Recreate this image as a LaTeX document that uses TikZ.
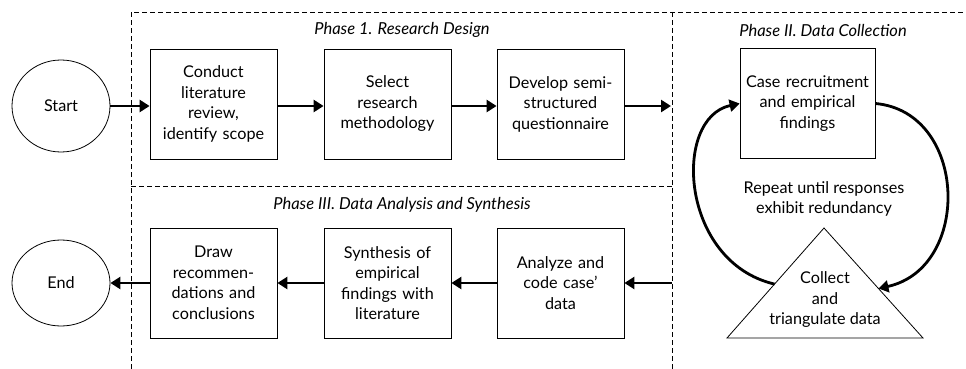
\documentclass[tikz,border=0pt]{standalone}
\usepackage{fontspec}
\setmainfont{Lato}
\usetikzlibrary{arrows.meta}
\usetikzlibrary{shapes.geometric}
\usetikzlibrary{calc}
\tikzstyle{stage}=[draw, line width=0.8pt, inner sep=0, minimum width=127pt, minimum height=110pt, text width=122pt, align=center]
\tikzstyle{terminal}=[draw, ellipse, line width=0.8pt, inner sep=0, minimum width=98pt, minimum height=92pt]
\tikzstyle{flow}=[line width=2.8pt, -{Triangle[length=10pt, width=12pt]}]
\tikzstyle{border}=[line width=0.7pt, dash pattern=on 5pt off 3pt]
\tikzstyle{phase}=[font=\fontsize{16.5}{20}\selectfont\itshape]
\begin{document}
\begin{tikzpicture}[x=1pt, y=-1pt, font=\fontsize{16.2}{20.5}\selectfont]
    \useasboundingbox (0, 0) rectangle (966, 369);
    % dashed phase borders
    \draw[border] (131, 369) -- (131, 12) -- (966, 12);
    \draw[border] (672, 12) -- (672, 369);
    \draw[border] (131, 186) -- (672, 186);
    \node[phase] (P1) at (402, 30) {Phase 1. Research Design};
    \node[phase] (P2) at (823, 30) {Phase II. Data Collection};
    \node[phase] (P3) at (402, 205) {Phase III. Data Analysis and Synthesis};
    % phase I
    \node[terminal] (S) at (61, 106) {Start};
    \node[stage] (A1) at (213.5, 104) {Conduct\\literature\\review,\\identify scope};
    \node[stage] (A2) at (387.5, 104) {Select\\research\\methodology};
    \node[stage] (A3) at (560.5, 104) {Develop semi-\\structured\\questionnaire};
    \coordinate (X1) at (671, 106);
    \draw[flow] (S.east) -- (S.east -| A1.west);
    \draw[flow] (A1.east |- X1) -- (A2.west |- X1);
    \draw[flow] (A2.east |- X1) -- (A3.west |- X1);
    \draw[flow] (A3.east |- X1) -- (X1);
    % phase II
    \node[stage, minimum width=135pt, text width=130pt] (B1) at (807.5, 103.5) {Case recruitment\\and empirical\\findings};
    \coordinate (T1) at (824, 228);
    \coordinate (T2) at (923, 338);
    \coordinate (T3) at (727, 338);
    \draw[line width=0.8pt] (T1) -- (T2) -- (T3) -- cycle;
    \node[align=center] (B2) at (825, 300) {Collect\\and\\triangulate data};
    \node[align=center] (R) at (824, 199) {Repeat until responses\\exhibit redundancy};
    \coordinate (L1) at ($(T1)!0.51!(T3)$);
    \coordinate (L2) at ($(T1)!0.55!(T2)$);
    \draw[flow] (L1) .. controls (680, 262) and (672, 118) .. (B1.west);
    \draw[flow] (B1.east) .. controls (968, 112) and (972, 268) .. (L2);
    % phase III
    \coordinate (X2) at (672, 283);
    \node[stage] (C1) at (560.5, 283) {Analyze and\\code case’\\data};
    \node[stage] (C2) at (387.5, 283) {Synthesis of\\empirical\\findings with\\literature};
    \node[stage] (C3) at (213.5, 283) {Draw\\recommen-\\dations and\\conclusions};
    \node[terminal, minimum height=86pt] (E) at (61, 283) {End};
    \draw[flow] (X2) -- (C1);
    \draw[flow] (C1) -- (C2);
    \draw[flow] (C2) -- (C3);
    \draw[flow] (C3) -- (E);
\end{tikzpicture}
\end{document}
